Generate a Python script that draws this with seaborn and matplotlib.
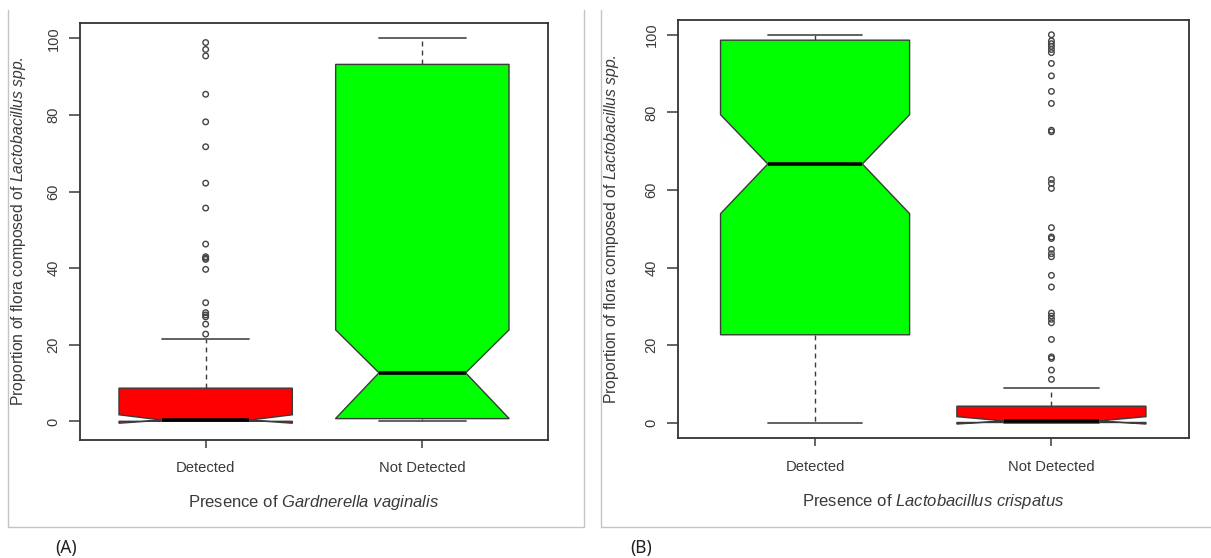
import matplotlib
matplotlib.use("Agg")
import matplotlib.pyplot as plt
from matplotlib.lines import Line2D
import pandas as pd
import seaborn as sns

# ---- data ----
groups = ["Detected", "Not Detected"]

# panel A: presence of Gardnerella vaginalis
a_colors = ["#ff0000", "#00ff00"]
a_whislo = [0.0, 0.0]
a_q1 = [0.05, 0.75]
a_cilo = [-0.45, 0.8]
a_med = [0.35, 12.7]
a_cihi = [1.75, 23.9]
a_q3 = [8.7, 93.2]
a_whishi = [21.5, 100.0]
a_out_det = [98.9, 97.1, 95.4, 85.4, 78.2, 71.7, 62.2, 55.7, 46.3, 43.0, 42.6,
             42.3, 39.7, 31.0, 28.4, 27.8, 27.3, 25.4, 22.8]
a_out_nd = []

# panel B: presence of Lactobacillus crispatus
b_colors = ["#00ff00", "#ff0000"]
b_whislo = [0.0, 0.0]
b_q1 = [22.7, 0.1]
b_cilo = [53.9, -0.3]
b_med = [66.7, 0.5]
b_cihi = [79.4, 1.6]
b_q3 = [98.6, 4.3]
b_whishi = [100.0, 9.0]
b_out_det = []
b_out_nd = [100.0, 98.4, 97.7, 97.0, 96.2, 95.4, 92.6, 89.4, 85.4, 82.3, 75.4,
            75.0, 62.7, 61.7, 60.4, 50.3, 47.9, 47.5, 44.7, 43.6, 42.8, 38.0,
            35.0, 28.3, 27.5, 26.7, 25.8, 21.5, 17.0, 16.6, 13.6, 11.2]

y_ticks = [0, 20, 40, 60, 80, 100]

sns.set_theme(style="white")
plt.rcParams["font.family"] = ["Liberation Sans", "DejaVu Sans"]
plt.rcParams["mathtext.fontset"] = "custom"
plt.rcParams["mathtext.rm"] = "Liberation Sans"
plt.rcParams["mathtext.it"] = "Liberation Sans:italic"

TXT = "#3a3a3a"
EDGE = "#3a3a3a"
W, H = 1211, 558


def make_stats(whislo, q1, cilo, med, cihi, q3, whishi):
    stats = []
    for i in range(len(groups)):
        stats.append(dict(whislo=whislo[i], q1=q1[i], cilo=cilo[i], med=med[i],
                          cihi=cihi[i], q3=q3[i], whishi=whishi[i], fliers=[]))
    return stats


def draw_panel(ax, stats, colors, out_det, out_nd, ylim, xlabel, ylab_x):
    """ notched R-style boxplot with open circle outliers """
    outliers = pd.DataFrame({
        "group": ["Detected"] * len(out_det) + ["Not Detected"] * len(out_nd),
        "value": out_det + out_nd})
    sns.stripplot(data=outliers, x="group", y="value", order=groups, jitter=False,
                  marker="o", size=4.0, facecolor="none", edgecolor="#444444",
                  linewidth=1.0, ax=ax, zorder=4)

    bp = ax.bxp(stats, positions=[0, 1], widths=0.8, shownotches=True,
                patch_artist=True, showfliers=False, manage_ticks=False,
                boxprops=dict(edgecolor=EDGE, linewidth=1.0),
                whiskerprops=dict(color=EDGE, linewidth=1.0, linestyle=(0, (3.5, 3))),
                capprops=dict(color="#555555", linewidth=1.3),
                medianprops=dict(color="black", linewidth=2.6, solid_capstyle="butt"))
    for patch, c in zip(bp["boxes"], colors):
        patch.set_facecolor(c)

    ax.set_xlim(-0.58, 1.58)
    ax.set_ylim(*ylim)
    ax.set_xticks([0, 1])
    ax.set_xticklabels(groups)
    ax.set_yticks(y_ticks)
    ax.set_yticklabels([str(t) for t in y_ticks])
    for lab in ax.get_yticklabels():
        lab.set_rotation(90)
        lab.set_va("center")
        lab.set_ha("right")
    ax.tick_params(axis="y", length=8, width=1.1, color=EDGE, pad=6,
                   labelsize=10.5, labelcolor=TXT, left=True)
    ax.tick_params(axis="x", length=6, width=1.1, color=EDGE, pad=9.5,
                   labelsize=10.6, labelcolor=TXT, bottom=True)
    for s in ax.spines.values():
        s.set_visible(True)
        s.set_color("#333333")
        s.set_linewidth(1.3)

    ax.set_ylabel(r"Proportion of flora composed of $\it{Lactobacillus\ spp.}$",
                  fontsize=11.3, color=TXT)
    ax.set_xlabel(xlabel, fontsize=12, color=TXT)
    ax.yaxis.set_label_coords(ylab_x, 0.5)
    ax.xaxis.set_label_coords(0.5, -0.128)
    ax.xaxis.label.set_va("top")
    ax.grid(False)


fig = plt.figure(figsize=(W / 100, H / 100), dpi=100)

ax1 = fig.add_axes([80 / W, 1 - 439.5 / H, 468 / W, 416.5 / H])
ax2 = fig.add_axes([678 / W, 1 - 438.4 / H, 510.5 / W, 418.8 / H])

draw_panel(ax1, make_stats(a_whislo, a_q1, a_cilo, a_med, a_cihi, a_q3, a_whishi),
           a_colors, a_out_det, a_out_nd, (-4.7, 104.0),
           r"Presence of $\it{Gardnerella\ vaginalis}$", -0.112)
draw_panel(ax2, make_stats(b_whislo, b_q1, b_cilo, b_med, b_cihi, b_q3, b_whishi),
           b_colors, b_out_det, b_out_nd, (-4.0, 103.9),
           r"Presence of $\it{Lactobacillus\ crispatus}$", -0.112)

# light grey frames around the two panels (top edge cropped in the original)
frame = "#c4c4c4"
for (x0, x1, right) in [(8, 584, True), (601, 1211, False)]:
    fig.add_artist(Line2D([x0 / W, x0 / W], [1 - 10 / H, 1 - 527 / H],
                          transform=fig.transFigure, color=frame, lw=1))
    if right:
        fig.add_artist(Line2D([x1 / W, x1 / W], [1 - 10 / H, 1 - 527 / H],
                              transform=fig.transFigure, color=frame, lw=1))
    fig.add_artist(Line2D([x0 / W, x1 / W], [1 - 527 / H, 1 - 527 / H],
                          transform=fig.transFigure, color=frame, lw=1))

fig.text(66 / W, 1 - 548 / H, "(A)", ha="center", va="center", fontsize=12.5,
         family="Noto Sans", color="#222222")
fig.text(641 / W, 1 - 548 / H, "(B)", ha="center", va="center", fontsize=12.5,
         family="Noto Sans", color="#222222")

fig.savefig("out.png", dpi=100)
